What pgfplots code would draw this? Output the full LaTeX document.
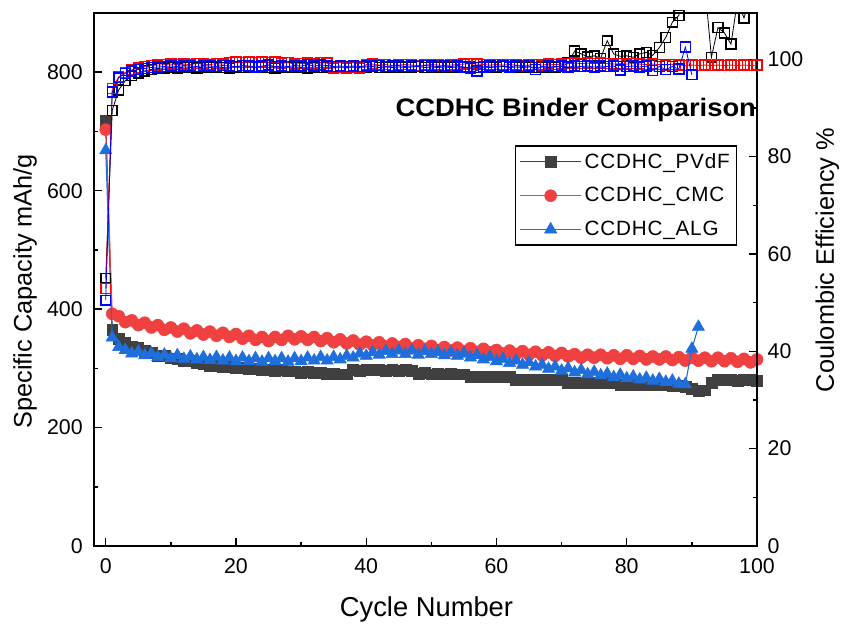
\documentclass[border=0pt]{standalone}
\usepackage{pgfplots}
\pgfplotsset{compat=1.18}
\usepackage{pgfplotstable}
\usepackage{fontspec}
\setmainfont{Liberation Sans}
\newfontfamily\legfont[LetterSpace=4]{Liberation Sans}
\newfontfamily\titlefont[FakeStretch=1.08]{Liberation Sans}

\definecolor{cgrey}{RGB}{64,64,64}
\definecolor{cred}{RGB}{240,64,64}
\definecolor{cblue}{RGB}{30,110,220}
\definecolor{ceblue}{RGB}{0,0,255}
\definecolor{cered}{RGB}{255,0,0}

\pgfplotstableread{
c pvdf cmc alg
0 718 703 668
1 365 392 352
2 350 388 336
3 343 378 331
4 337 381 325
5 334 373 328
6 329 377 322
7 327 369 325
8 322 373 319
9 321 365 323
10 317 369 317
11 316 362 322
12 313 367 316
13 312 359 320
14 309 364 315
15 308 357 319
16 305 362 314
17 305 355 319
18 303 360 313
19 303 353 318
20 301 358 312
21 301 350 318
22 299 355 312
23 300 348 317
24 298 353 311
25 298 346 317
26 296 353 312
27 297 348 317
28 295 355 311
29 295 349 317
30 293 354 312
31 294 348 318
32 292 353 313
33 293 346 319
34 291 351 313
35 291 344 319
36 290 349 315
37 290 342 321
38 297 347 318
39 296 340 325
40 298 345 321
41 297 339 327
42 297 344 323
43 296 337 329
44 297 342 324
45 296 336 330
46 297 341 324
47 296 334 330
48 291 339 323
49 292 333 329
50 290 338 324
51 291 331 328
52 290 336 322
53 291 330 327
54 290 335 321
55 290 329 325
56 286 334 318
57 286 328 322
58 285 333 315
59 286 327 319
60 285 331 312
61 286 325 316
62 285 330 309
63 281 324 313
64 281 329 306
65 280 323 310
66 281 328 303
67 280 322 306
68 281 327 299
69 280 321 303
70 280 326 296
71 276 320 300
72 276 324 293
73 275 318 297
74 276 323 290
75 275 318 294
76 276 323 288
77 275 317 291
78 276 322 285
79 273 316 289
80 273 322 283
81 272 316 286
82 273 321 281
83 272 315 284
84 273 320 279
85 272 315 282
86 272 320 277
87 270 314 279
88 270 319 274
89 269 313 273
90 266 318 333
91 262 313 370
92 263 318 nan
93 275 312 nan
94 280 318 nan
95 281 312 nan
96 280 317 nan
97 279 311 nan
98 281 316 nan
99 280 310 nan
100 279 315 nan
}\capdata

\pgfplotstableread{
c pvdf cmc alg
0 55.0 52.9 50.5
1 89.5 94.0 93.3
2 93.7 96.4 96.2
3 95.6 97.3 97.1
4 96.6 97.8 97.6
5 97.2 98.2 97.9
6 97.6 98.5 98.1
7 97.9 98.7 98.3
8 98.1 98.8 98.4
9 98.2 98.9 98.5
10 98.3 99.0 98.6
11 98.2 98.9 98.5
12 98.4 99.0 98.7
13 98.3 98.9 98.6
14 98.2 99.1 98.5
15 98.4 99.0 98.7
16 98.3 98.9 98.6
17 98.4 99.1 98.5
18 98.3 99.0 98.7
19 98.2 99.3 98.6
20 98.4 99.4 98.5
21 98.3 99.3 98.7
22 98.4 99.4 98.6
23 98.3 99.3 98.4
24 98.4 99.4 98.6
25 98.3 99.3 98.8
26 98.2 99.4 98.5
27 98.4 99.2 98.6
28 98.3 99.3 98.5
29 98.4 99.0 98.7
30 98.3 99.1 98.6
31 98.2 99.2 98.9
32 98.4 99.0 98.6
33 98.3 99.3 98.8
34 98.4 99.2 98.7
35 98.3 98.2 98.5
36 98.4 98.3 98.6
37 98.3 98.2 98.5
38 98.4 98.3 98.6
39 98.3 98.2 98.5
40 98.4 98.9 98.6
41 98.5 99.0 98.6
42 98.3 98.8 98.7
43 98.4 98.9 98.5
44 98.3 98.7 98.6
45 98.4 98.8 98.7
46 98.3 98.9 98.5
47 98.4 98.8 98.6
48 98.5 98.7 98.5
49 98.3 98.8 98.7
50 98.4 98.9 98.6
51 98.3 98.8 98.5
52 98.4 98.7 98.6
53 98.3 98.8 98.5
54 98.4 98.9 98.7
55 98.3 99.0 98.4
56 98.4 99.1 98.2
57 98.3 99.0 97.6
58 98.4 98.9 98.4
59 98.3 98.8 98.6
60 98.4 98.9 98.5
61 98.5 98.8 98.6
62 98.3 98.9 98.4
63 98.4 98.8 98.7
64 98.3 98.7 98.5
65 98.4 98.8 98.6
66 98.3 98.9 97.9
67 98.4 98.8 98.5
68 98.3 99.0 98.6
69 98.4 98.9 98.5
70 98.5 99.0 98.6
71 99.2 99.1 98.4
72 101.7 99.2 98.6
73 101.1 99.1 98.5
74 100.5 99.2 98.6
75 100.7 99.1 98.4
76 100.2 99.2 98.6
77 103.8 99.1 98.5
78 101.1 99.0 98.6
79 100.6 99.1 97.8
80 100.7 99.0 98.5
81 100.4 99.1 98.6
82 101.1 99.0 98.4
83 101.4 98.9 98.6
84 100.8 99.0 97.7
85 102.4 98.9 98.5
86 104.5 98.8 97.9
87 107.6 98.9 98.5
88 109.0 98.8 98.0
89 118.0 98.7 102.5
90 125.0 98.8 96.8
91 120.0 98.7 nan
92 115.0 98.8 nan
93 100.4 98.7 nan
94 106.5 98.8 nan
95 105.4 98.7 nan
96 103.1 98.8 nan
97 112.0 98.7 nan
98 108.5 98.8 nan
99 113.0 98.7 nan
100 110.5 98.8 nan
}\cedata

\pgfplotsset{
  base/.style={
    scale only axis, width=497.25pt, height=399.75pt,
    xmin=-1.8, xmax=100,
    tick align=inside,
    axis line style={line width=1.4pt},
    major tick length=6pt, minor tick length=3pt,
    every tick/.style={line width=1.1pt, black},
    /pgf/number format/assume math mode=true,
    ticklabel style={font=\fontsize{16}{19}\selectfont},
    clip mode=individual,
  },
}

\begin{document}
\begin{tikzpicture}
\begin{axis}[base,
  ymin=0, ymax=900,
  xtick={0,20,...,100}, minor xtick={10,30,...,90},
  ytick={0,200,...,800}, minor ytick={100,300,...,900},
  xtick pos=bottom, ytick pos=left,
  xticklabel style={yshift=-6pt},
  yticklabel style={xshift=-5pt},
  xlabel={Cycle Number},
  xlabel style={font=\fontsize{20.5}{24}\selectfont, at={(axis description cs:0.5015,-0.1332)}, anchor=base},
  ylabel={Specific Capacity mAh/g},
  ylabel style={font=\fontsize{19}{22}\selectfont, at={(axis description cs:-0.094,0.478)}, anchor=base, rotate=0},
  legend style={at={(rel axis cs:0.97,0.752)}, anchor=north east, draw=black, line width=1pt,
    font=\legfont\fontsize{15.5}{18}\selectfont, row sep=9pt, inner xsep=3pt, inner ysep=3.5pt},
  legend cell align=left,
  legend image code/.code={\draw[mark repeat=2,mark phase=2,#1] plot coordinates {(0pt,0pt) (23pt,0pt) (46pt,0pt)};},
]
\addplot[color=cgrey, line width=0.8pt, mark=square*, mark size=4.1pt, mark options={fill=cgrey, line width=0.4pt}] table[x=c, y=pvdf] {\capdata};
\addlegendentry{CCDHC\_PVdF}
\addplot[color=cred, line width=0.8pt, mark=*, mark size=4.5pt, mark options={fill=cred, line width=0.4pt}] table[x=c, y=cmc] {\capdata};
\addlegendentry{CCDHC\_CMC}
\addplot[color=cblue, line width=0.8pt, mark=triangle*, mark size=5.3pt, mark options={fill=cblue, line width=0.4pt}] table[x=c, y=alg] {\capdata};
\addlegendentry{CCDHC\_ALG}
\node[font=\titlefont\bfseries\fontsize{19}{22}\selectfont, anchor=west] at (rel axis cs:0.448,0.818) {CCDHC Binder Comparison};
\end{axis}
\begin{axis}[base,
  ymin=0, ymax=109.5,
  axis x line=none, axis y line*=right,
  ytick={0,20,...,100}, minor ytick={10,30,...,90},
  ytick pos=right,
  yticklabel style={xshift=4.5pt},
  ylabel={Coulombic Efficiency \%},
  ylabel style={font=\fontsize{19}{22}\selectfont, at={(axis description cs:1.116,0.5366)}, anchor=base, rotate=0},
]
\addplot[color=black, line width=0.6pt, mark=square, mark size=3.7pt, mark options={line width=1.1pt}] table[x=c, y=pvdf] {\cedata};
\addplot[color=cered, line width=0.6pt, mark=square, mark size=3.7pt, mark options={line width=1.1pt}] table[x=c, y=cmc] {\cedata};
\addplot[color=ceblue, line width=0.6pt, mark=square, mark size=3.7pt, mark options={line width=1.1pt}] table[x=c, y=alg] {\cedata};
\end{axis}
\pgfresetboundingbox
\path[use as bounding box] (-70.5pt,-58.5pt) rectangle (561pt,409.5pt);
\end{tikzpicture}
\end{document}
